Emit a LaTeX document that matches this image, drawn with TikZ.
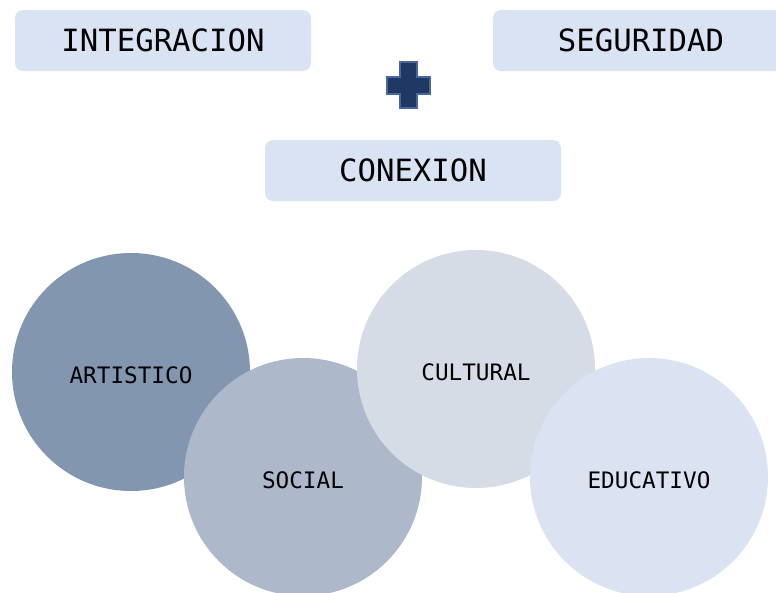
\documentclass[tikz,border=0pt]{standalone}
\usepackage{xcolor}
\usepackage{fontspec}
\setmonofont{DejaVu Sans Mono}
\usepackage{tikz}
\usetikzlibrary{shapes,positioning}

\definecolor{boxfill}{HTML}{DAE3F3}
\definecolor{artfill}{HTML}{8296AF}
\definecolor{socfill}{HTML}{ADB8CA}
\definecolor{culfill}{HTML}{D6DCE5}
\definecolor{edufill}{HTML}{DBE3F2}
\definecolor{plusfill}{HTML}{203864}
\definecolor{plusline}{HTML}{4A66A0}

\begin{document}
\begin{tikzpicture}[x=0.75pt, y=-0.75pt]
    % Define styles
    \tikzstyle{topic} = [rectangle, fill=boxfill, rounded corners=6pt, minimum width=222pt, minimum height=45.75pt, inner sep=0pt, font=\ttfamily\fontsize{23}{26}\selectfont]
    \tikzstyle{area} = [circle, minimum size=178.5pt, inner sep=0pt, text height=17pt, text depth=0pt, font=\ttfamily\fontsize{17}{20}\selectfont]

    \useasboundingbox (0,0) rectangle (776,593);

    % Top boxes
    \node [topic] (integracion) at (163,40.5) {INTEGRACION};
    \node [topic] (seguridad) at (641,40.5) {SEGURIDAD};
    \node [topic] (conexion) at (413,170.5) {CONEXION};

    % Plus sign
    \draw [fill=plusfill, draw=plusline, line width=1pt]
        (400,62) -- (417,62) -- (417,77) -- (430,77) -- (430,94) -- (417,94)
        -- (417,108) -- (400,108) -- (400,94) -- (387,94) -- (387,77) -- (400,77) -- cycle;

    % Circles from back to front
    \node [area, fill=artfill] (artistico) at (131,372) {ARTISTICO};
    \node [area, fill=socfill] (social) at (303,477) {SOCIAL};
    \node [area, fill=culfill] (cultural) at (476,369) {CULTURAL};
    \node [area, fill=edufill] (educativo) at (649,477) {EDUCATIVO};
\end{tikzpicture}
\end{document}
